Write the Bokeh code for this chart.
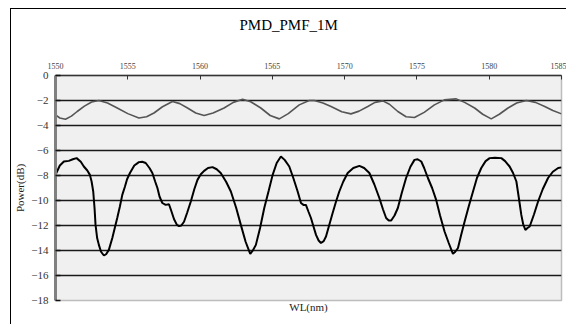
from bokeh.plotting import figure
from bokeh.models import LinearAxis, Range1d, FixedTicker, Title
from bokeh.embed import file_html
from bokeh.resources import INLINE

# ---- data ----
wl_black = [1550.0, 1550.3, 1550.58, 1550.92, 1551.2, 1551.46, 1551.75, 1551.96, 1552.2, 1552.38,
            1552.5, 1552.61, 1552.7, 1552.77, 1552.88, 1553.0, 1553.15, 1553.35, 1553.5, 1553.69,
            1553.93, 1554.1, 1554.27, 1554.45, 1554.62, 1554.8, 1554.95, 1555.15, 1555.45, 1555.77,
            1556.0, 1556.24, 1556.5, 1556.7, 1556.9, 1557.05, 1557.2, 1557.39, 1557.62, 1557.85,
            1558.0, 1558.2, 1558.4, 1558.55, 1558.7, 1558.89, 1559.1, 1559.36, 1559.6, 1559.82,
            1560.05, 1560.28, 1560.55, 1560.86, 1561.15, 1561.43, 1561.8, 1562.13, 1562.5, 1562.82,
            1563.15, 1563.47, 1563.65, 1563.86, 1564.15, 1564.44, 1564.75, 1565.02, 1565.3, 1565.59,
            1565.85, 1566.17, 1566.45, 1566.75, 1566.98, 1567.15, 1567.32, 1567.5, 1567.67, 1567.85,
            1568.02, 1568.2, 1568.36, 1568.55, 1568.71, 1568.95, 1569.17, 1569.4, 1569.63, 1569.9,
            1570.21, 1570.6, 1571.02, 1571.35, 1571.71, 1572.05, 1572.4, 1572.65, 1572.87, 1573.05,
            1573.22, 1573.45, 1573.68, 1573.95, 1574.25, 1574.55, 1574.83, 1575.05, 1575.3, 1575.5,
            1575.76, 1576.05, 1576.33, 1576.6, 1576.91, 1577.2, 1577.49, 1577.65, 1577.84, 1578.05,
            1578.3, 1578.6, 1578.88, 1579.15, 1579.45, 1579.75, 1580.03, 1580.4, 1580.84, 1581.1,
            1581.41, 1581.65, 1581.88, 1582.05, 1582.22, 1582.35, 1582.5, 1582.65, 1582.8, 1583.1,
            1583.38, 1583.7, 1584.07, 1584.4, 1584.77, 1585.0]
pw_black = [-7.95, -7.2, -6.88, -6.83, -6.7, -6.61, -6.9, -7.28, -7.6, -7.95,
            -8.5, -9.28, -10.6, -11.95, -13.0, -13.55, -14.1, -14.4, -14.3, -13.95,
            -13.0, -12.2, -11.4, -10.5, -9.55, -8.9, -8.3, -7.8, -7.2, -6.93,
            -6.9, -7.0, -7.4, -7.8, -8.5, -9.0, -9.7, -10.2, -10.35, -10.3,
            -10.8, -11.5, -11.95, -12.05, -12.0, -11.7, -11.0, -10.08, -9.1, -8.35,
            -7.9, -7.63, -7.4, -7.33, -7.5, -7.8, -8.5, -9.28, -10.6, -11.95,
            -13.3, -14.27, -14.0, -13.55, -12.2, -10.6, -9.2, -7.95, -7.0, -6.48,
            -6.75, -7.28, -8.2, -9.28, -10.2, -10.35, -10.35, -10.9, -11.4, -12.1,
            -12.75, -13.2, -13.4, -13.25, -12.88, -11.9, -11.0, -10.1, -9.28, -8.5,
            -7.8, -7.4, -7.23, -7.4, -7.8, -8.7, -9.8, -10.7, -11.4, -11.6,
            -11.6, -11.2, -10.6, -9.4, -8.2, -7.3, -6.75, -6.7, -6.88, -7.4,
            -8.2, -9.0, -9.95, -11.2, -12.48, -13.4, -14.27, -14.1, -13.8, -12.8,
            -11.68, -10.4, -9.28, -8.2, -7.4, -6.85, -6.61, -6.58, -6.61, -6.85,
            -7.28, -7.8, -8.48, -9.8, -11.15, -11.9, -12.35, -12.2, -12.08, -11.1,
            -10.08, -9.1, -8.2, -7.7, -7.4, -7.35]

wl_gray = [1550.0, 1550.3, 1550.69, 1551.1, 1551.5, 1552.0, 1552.5, 1553.0, 1553.6, 1554.27,
           1555.0, 1555.77, 1556.3, 1556.81, 1557.4, 1558.09, 1558.6, 1559.13, 1559.7, 1560.28,
           1560.9, 1561.66, 1562.3, 1562.94, 1563.5, 1564.2, 1564.85, 1565.48, 1566.1, 1566.86,
           1567.55, 1567.9, 1568.5, 1569.06, 1569.8, 1570.44, 1571.0, 1571.6, 1572.1, 1572.64,
           1573.1, 1573.68, 1574.25, 1574.83, 1575.5, 1576.21, 1576.9, 1577.72, 1578.3, 1578.99,
           1579.55, 1580.14, 1580.7, 1581.3, 1581.9, 1582.57, 1583.2, 1583.84, 1584.4, 1585.0]
pw_gray = [-3.15, -3.4, -3.5, -3.25, -2.88, -2.45, -2.12, -2.0, -2.2, -2.6,
           -3.05, -3.4, -3.3, -3.0, -2.5, -2.08, -2.25, -2.6, -3.0, -3.2,
           -3.0, -2.6, -2.15, -1.9, -2.1, -2.6, -3.2, -3.47, -3.05, -2.35,
           -2.0, -2.0, -2.2, -2.48, -2.9, -3.07, -2.85, -2.48, -2.15, -2.03,
           -2.3, -2.88, -3.3, -3.36, -2.95, -2.35, -1.95, -1.87, -2.15, -2.6,
           -3.1, -3.47, -3.1, -2.6, -2.2, -2.0, -2.15, -2.48, -2.8, -3.07]

x_ticks = [1550, 1555, 1560, 1565, 1570, 1575, 1580, 1585]
y_ticks = [0, -2, -4, -6, -8, -10, -12, -14, -16, -18]
grid_ticks = [-2, -4, -6, -8, -10, -12, -14, -16]

title_text = "PMD_PMF_1M"
x_label = "WL(nm)"
y_label = "Power(dB)"

SERIF = "Liberation Serif"

p = figure(width=556, height=316, output_backend="svg", toolbar_location=None,
           x_range=Range1d(1550, 1585), y_range=Range1d(-18, 0),
           x_axis_location=None, y_axis_location=None,
           min_border_left=44, min_border_right=6, min_border_top=66, min_border_bottom=25)
p.styles = {"margin-left": "10px", "margin-top": "8px",
            "border-left": "1px solid #000", "border-top": "1px solid #000"}
p.background_fill_color = "#f0f0f0"
p.border_fill_color = "white"
p.outline_line_color = "#bdbdbd"
p.outline_line_width = 1.5

# top x axis (closest to frame)
xa = LinearAxis(ticker=FixedTicker(ticks=x_ticks))
xa.axis_line_color = "#333"
xa.axis_line_width = 1.5
xa.major_tick_in = 4
xa.major_tick_out = 0
xa.major_tick_line_color = "#333"
xa.minor_tick_line_color = None
xa.major_label_text_font = SERIF
xa.major_label_text_font_size = "8px"
xa.major_label_text_color = "#444"
xa.major_label_standoff = 7
p.add_layout(xa, "above")

# blank spacer between the axis and the title
spacer = Title(text=" ", standoff=0, text_font=SERIF, text_font_size="19px")
p.add_layout(spacer, "above")

# title
t = Title(text=title_text, align="left", offset=184, standoff=7,
          text_font=SERIF, text_font_size="15px",
          text_font_style="normal", text_color="#000")
p.add_layout(t, "above")

# bottom axis just for the label
xb = LinearAxis(ticker=FixedTicker(ticks=[]))
xb.axis_line_color = None
xb.major_tick_line_color = None
xb.minor_tick_line_color = None
xb.major_label_text_font_size = "0px"
xb.major_label_standoff = 0
xb.axis_label = x_label
xb.axis_label_standoff = 0
xb.axis_label_text_font = SERIF
xb.axis_label_text_font_size = "11px"
xb.axis_label_text_font_style = "normal"
xb.axis_label_text_color = "#222"
p.add_layout(xb, "below")

# left y axis
ya = LinearAxis(ticker=FixedTicker(ticks=y_ticks))
ya.axis_line_color = "#808080"
ya.axis_line_width = 3
ya.major_tick_in = 5
ya.major_tick_out = 0
ya.major_tick_line_color = "#111"
ya.major_tick_line_width = 1.5
ya.minor_tick_line_color = None
ya.major_label_text_font = SERIF
ya.major_label_text_font_size = "11px"
ya.major_label_text_color = "#333"
ya.major_label_standoff = 7
ya.axis_label = y_label
ya.axis_label_standoff = 2
ya.axis_label_text_font = SERIF
ya.axis_label_text_font_size = "11px"
ya.axis_label_text_font_style = "normal"
ya.axis_label_text_color = "#222"
p.add_layout(ya, "left")

p.xgrid.visible = False
p.ygrid.ticker = FixedTicker(ticks=grid_ticks)
p.ygrid.grid_line_color = "#1a1a1a"
p.ygrid.grid_line_width = 1.3

p.line(wl_gray, pw_gray, line_color="#555555", line_width=1.6)
p.line(wl_black, pw_black, line_color="#000000", line_width=2)

open("out.html", "w").write(file_html(p, INLINE))
